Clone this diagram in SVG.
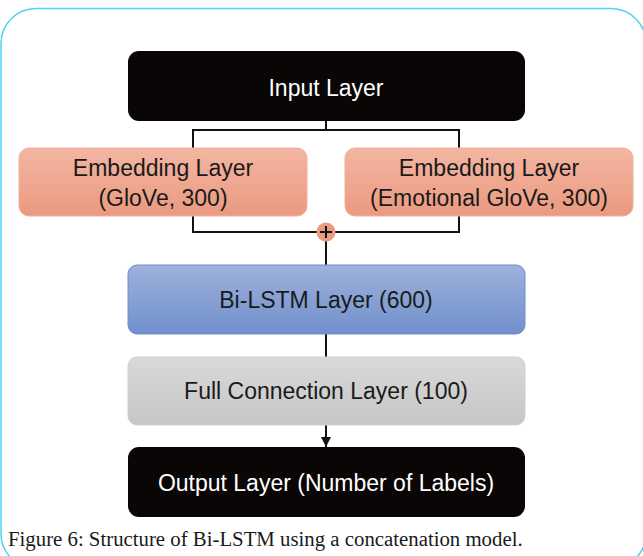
<svg xmlns="http://www.w3.org/2000/svg" width="643" height="556" viewBox="0 0 643 556">
  <defs>
    <linearGradient id="salmon" x1="0" y1="0" x2="0" y2="1">
      <stop offset="0" stop-color="#f3b6a2"/>
      <stop offset="1" stop-color="#eb9980"/>
    </linearGradient>
    <linearGradient id="blue" x1="0" y1="0" x2="0" y2="1">
      <stop offset="0" stop-color="#9eb1da"/>
      <stop offset="1" stop-color="#7190cd"/>
    </linearGradient>
    <linearGradient id="grey" x1="0" y1="0" x2="0" y2="1">
      <stop offset="0" stop-color="#d9d9d9"/>
      <stop offset="1" stop-color="#c6c6c6"/>
    </linearGradient>
    <marker id="arrow" viewBox="0 0 10 10" refX="10" refY="5" markerWidth="5" markerHeight="5" orient="auto">
      <path d="M0,0 L10,5 L0,10 z" fill="#111"/>
    </marker>
    <style>
      .lbl { font-family: "Liberation Sans", Arial, sans-serif; font-size: 23px; text-anchor: middle; }
      .dark { fill: #0a0606; }
      .white { fill: #ffffff; }
      .ink { fill: #1a1a1a; }
      .wire { fill: none; stroke: #111; stroke-width: 2; }
      .cap { font-family: "Liberation Serif", "Times New Roman", serif; font-size: 20.8px; fill: #1a1a1a; }
    </style>
  </defs>

  <rect width="643" height="556" fill="#ffffff"/>
  <!-- page frame -->
  <rect x="1" y="8.5" width="645" height="560" rx="35" fill="none" stroke="#4fd3f2" stroke-width="1.5"/>

  <g id="connectors">
    <path class="wire" d="M326,121 V130 M193,148 V130 H459 V148"/>
    <path class="wire" d="M193,216 V232 H459 V216"/>
    <path class="wire" d="M326,232 V265"/>
    <path class="wire" d="M326,334 V357"/>
    <path class="wire" d="M326,425 V447" stroke-width="1.5" marker-end="url(#arrow)"/>
  </g>

  <g id="input-layer">
    <rect x="128" y="51" width="397" height="70" rx="11" class="dark"/>
    <text x="326" y="96" class="lbl white">Input Layer</text>
  </g>

  <g id="embedding-glove">
    <rect x="19" y="148" width="288" height="68" rx="10" fill="url(#salmon)" stroke="#f0b09c" stroke-width="1"/>
    <text x="163" y="176" class="lbl ink">Embedding Layer</text>
    <text x="163" y="206" class="lbl ink">(GloVe, 300)</text>
  </g>

  <g id="embedding-emotional">
    <rect x="345" y="148" width="288" height="68" rx="10" fill="url(#salmon)" stroke="#f0b09c" stroke-width="1"/>
    <text x="489" y="176" class="lbl ink">Embedding Layer</text>
    <text x="489" y="206" class="lbl ink">(Emotional GloVe, 300)</text>
  </g>

  <g id="concat">
    <circle cx="326" cy="232" r="9.5" fill="#ec9a80"/>
    <path d="M320,232 H332 M326,226 V238" stroke="#111" stroke-width="2"/>
  </g>

  <g id="bilstm-layer">
    <rect x="128" y="265" width="397" height="69" rx="9" fill="url(#blue)" stroke="#6e8ecb" stroke-width="1"/>
    <text x="326" y="308" class="lbl ink">Bi-LSTM Layer (600)</text>
  </g>

  <g id="full-connection-layer">
    <rect x="128" y="357" width="397" height="68" rx="9" fill="url(#grey)" stroke="#d0d0d0" stroke-width="1"/>
    <text x="326" y="399" class="lbl ink">Full Connection Layer (100)</text>
  </g>

  <g id="output-layer">
    <rect x="128" y="447" width="397" height="70" rx="11" class="dark"/>
    <text x="326" y="491" class="lbl white">Output Layer (Number of Labels)</text>
  </g>

  <text x="8" y="546" class="cap">Figure 6: Structure of Bi-LSTM using a concatenation model.</text>
</svg>
